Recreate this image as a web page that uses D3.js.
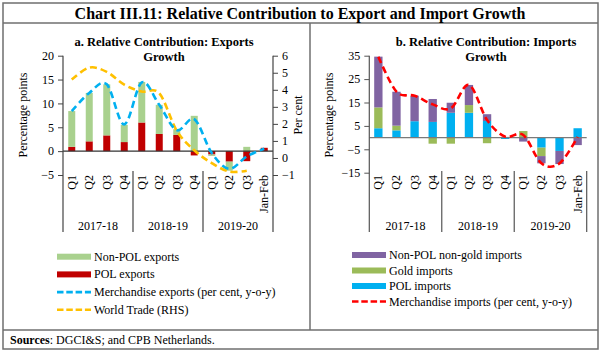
<!DOCTYPE html>
<html><head><meta charset="utf-8">
<script src="https://cdn.jsdelivr.net/npm/d3@7"></script>
<style>
html,body{margin:0;padding:0;background:#fff;}
text{font-family:"Liberation Serif","Times New Roman",serif;fill:#000;}
</style></head>
<body><svg id="c" width="603" height="355"></svg>
<script>
// ---------- data ----------
const categories = ["Q1","Q2","Q3","Q4","Q1","Q2","Q3","Q4","Q1","Q2","Q3","Jan-Feb"];
const years = ["2017-18","2018-19","2019-20"];
const polExports      = [0.9, 2.05, 3.3, 1.9, 6.0, 3.6, 3.4, -0.9, -0.7, -2.2, -2.1, 0.7];
const nonPolExports   = [7.5, 10.15, 10.7, 3.6, 8.5, 6.1, 1.2, 7.4, -0.3, -1.9, 0.9, 0];
const merchExports    = [8.4, 12.2, 14.0, 5.6, 14.4, 9.7, 4.4, 6.7, -0.4, -3.7, -1.1, 0.5];
const worldTrade      = [4.6, 5.3, 5.05, 4.3, 3.9, 3.8, 1.6, 0.45, -0.3, -0.8, -0.75, null];
const polImports      = [4.0, 3.1, 7.0, 6.7, 10.6, 10.6, 7.1, -0.6, 0, -4.3, -5.7, 4.0];
const goldImports     = [8.9, 2.0, 0, -2.6, -2.6, 3.3, -2.4, 0, 2.8, -3.6, 0, 0];
const nonPolNonGoldImports = [21.7, 14.5, 10.9, 9.8, 4.3, 8.6, 2.9, 0.3, -1.7, -3.1, -5.6, -3.2];
const merchImports    = [34.6, 19.6, 17.9, 14.2, 12.5, 22.5, 7.5, 0.4, 1.1, -11.0, -11.0, 0.3];
const ticksA = [-5, 0, 5, 10, 15, 20];
const ticksARight = [-1, 0, 1, 2, 3, 4, 5, 6];
const ticksB = [-15, -5, 5, 15, 25, 35];

const svg = d3.select("#c");
const idx = categories.map((d, i) => i);

// ---------- frame ----------
const frame = "#6f6f6f";
svg.append("rect").attr("x", 3).attr("y", 3).attr("width", 595).attr("height", 346)
  .attr("fill", "none").attr("stroke", frame).attr("stroke-width", 1.5);
svg.append("line").attr("x1", 3).attr("x2", 598).attr("y1", 23).attr("y2", 23).attr("stroke", frame).attr("stroke-width", 1.5);
svg.append("line").attr("x1", 3).attr("x2", 598).attr("y1", 330).attr("y2", 330).attr("stroke", frame).attr("stroke-width", 1.5);
svg.append("line").attr("x1", 310).attr("x2", 310).attr("y1", 23).attr("y2", 330).attr("stroke", frame).attr("stroke-width", 1.5);
svg.append("text").attr("x", 300).attr("y", 19).attr("text-anchor", "middle")
  .attr("font-size", "16px").attr("font-weight", "bold")
  .text("Chart III.11: Relative Contribution to Export and Import Growth");
const src = svg.append("text").attr("x", 10).attr("y", 343.5).attr("font-size", "12px");
src.append("tspan").attr("font-weight", "bold").text("Sources");
src.append("tspan").text(": DGCI&S; and CPB Netherlands.");

function drawPanel(o) {
  const g = svg.append("g");
  const x = d3.scaleBand().domain(idx).range([o.x0, o.x1]).paddingInner(o.pad).paddingOuter(o.pad / 2);
  const y = d3.scaleLinear().domain(o.yDomain).range([o.yBottom, o.yTop]);
  const cx = i => x(i) + x.bandwidth() / 2;

  // subtitle
  o.title.forEach((t, k) => g.append("text").attr("x", o.titleX).attr("y", 46 + k * 15)
    .attr("text-anchor", "middle").attr("font-size", "12.5px").attr("font-weight", "bold").text(t));

  // bars
  const rows = idx.map(i => { const r = {i}; o.series.forEach(s => r[s.key] = s.values[i]); return r; });
  const stack = d3.stack().keys(o.series.map(s => s.key)).offset(d3.stackOffsetDiverging)(rows);
  stack.forEach((layer, k) => {
    g.append("g").selectAll("rect").data(layer).join("rect")
      .attr("x", d => x(d.data.i)).attr("width", x.bandwidth())
      .attr("y", d => y(Math.max(d[0], d[1])))
      .attr("height", d => Math.abs(y(d[0]) - y(d[1])))
      .attr("fill", o.series[k].color);
  });

  // zero line
  g.append("line").attr("x1", o.x0).attr("x2", o.x1).attr("y1", y(0)).attr("y2", y(0))
    .attr("stroke", o.zeroColor).attr("stroke-width", 1.2);

  // left axis
  const ax = g.append("g").attr("transform", `translate(${o.x0},0)`)
    .call(d3.axisLeft(y).tickValues(o.ticks).tickFormat(d3.format("d")).tickSize(5).tickPadding(4));
  ax.select(".domain").remove();
  ax.selectAll("line").attr("stroke", o.axisColor);
  ax.selectAll("text").attr("font-size", "12px").attr("font-family", "Liberation Serif, serif");
  g.append("line").attr("x1", o.x0).attr("x2", o.x0).attr("y1", o.yTop).attr("y2", 232)
    .attr("stroke", o.axisColor).attr("stroke-width", 1.2);
  g.append("text").attr("transform", `translate(${o.yTitleX},115) rotate(-90)`)
    .attr("text-anchor", "middle").attr("font-size", "12px").text("Percentage points");

  // right axis
  let yR = null;
  if (o.rightDomain) {
    yR = d3.scaleLinear().domain(o.rightDomain).range([o.yBottom, o.yTop]);
    const ar = g.append("g").attr("transform", `translate(${o.x1},0)`)
      .call(d3.axisRight(yR).tickValues(ticksARight).tickFormat(d3.format("d")).tickSize(5).tickPadding(4));
    ar.select(".domain").remove();
    ar.selectAll("line").attr("stroke", o.axisColor);
    ar.selectAll("text").attr("font-size", "12px").attr("font-family", "Liberation Serif, serif");
    g.append("line").attr("x1", o.x1).attr("x2", o.x1).attr("y1", o.yTop).attr("y2", 232)
      .attr("stroke", o.axisColor).attr("stroke-width", 1.2);
    g.append("text").attr("transform", `translate(302,115) rotate(-90)`)
      .attr("text-anchor", "middle").attr("font-size", "12px").text("Per cent");
  } else {
    g.append("line").attr("x1", o.x1).attr("x2", o.x1).attr("y1", 171).attr("y2", 232)
      .attr("stroke", o.axisColor).attr("stroke-width", 1.2);
  }

  // category labels and group separators
  categories.forEach((c, i) => {
    g.append("text").attr("transform", `translate(${cx(i) + 4},175) rotate(-90)`)
      .attr("text-anchor", "end").attr("font-size", "12px").text(c);
  });
  const step = x.step();
  [4, 8].forEach(b => {
    const xs = o.x0 + b * step;
    g.append("line").attr("x1", xs).attr("x2", xs).attr("y1", 171).attr("y2", 232)
      .attr("stroke", o.axisColor).attr("stroke-width", 1.2);
  });
  years.forEach((yr, k) => {
    g.append("text").attr("x", o.x0 + (k * 4 + 2) * step).attr("y", 230)
      .attr("text-anchor", "middle").attr("font-size", "12px").text(yr);
  });

  // lines
  o.lines.forEach(l => {
    const sc = l.right ? yR : y;
    const line = d3.line().defined(d => d != null).x((d, i) => cx(i)).y(d => sc(d))
      .curve(d3.curveCatmullRom.alpha(0));
    g.append("path").datum(l.values).attr("d", line).attr("fill", "none")
      .attr("stroke", l.color).attr("stroke-width", 2.6).attr("stroke-dasharray", "7,4");
  });

  // legend
  o.legend.forEach((it, k) => {
    const ly = o.legY + k * o.legStep;
    if (it.type === "bar") {
      g.append("rect").attr("x", o.legX).attr("y", ly - 3).attr("width", 34).attr("height", 6).attr("fill", it.color);
    } else {
      g.append("line").attr("x1", o.legX).attr("x2", o.legX + 34).attr("y1", ly).attr("y2", ly)
        .attr("stroke", it.color).attr("stroke-width", 2.6).attr("stroke-dasharray", "6.5,2.8");
    }
    g.append("text").attr("x", o.legX + 37).attr("y", ly + 4).attr("font-size", "12px").text(it.label);
  });
}

drawPanel({
  x0: 63, x1: 273, yTop: 55.7, yBottom: 175, yDomain: [-5, 20], ticks: ticksA, pad: 0.6,
  rightDomain: [-1, 6], titleX: 164, title: ["a. Relative Contribution: Exports", "Growth"],
  zeroColor: "#333", axisColor: "#444", yTitleX: 27,
  series: [
    {key: "pol", values: polExports, color: "#c00000"},
    {key: "nonpol", values: nonPolExports, color: "#a9d18e"}
  ],
  lines: [
    {values: worldTrade, color: "#ffc000", right: true},
    {values: merchExports, color: "#00b0f0", right: false}
  ],
  legX: 57, legY: 256.7, legStep: 17.7,
  legend: [
    {type: "bar", color: "#a9d18e", label: "Non-POL exports"},
    {type: "bar", color: "#c00000", label: "POL exports"},
    {type: "line", color: "#00b0f0", label: "Merchandise exports  (per cent, y-o-y)"},
    {type: "line", color: "#ffc000", label: "World Trade (RHS)"}
  ]
});

drawPanel({
  x0: 369.3, x1: 586.7, yTop: 55.7, yBottom: 172.7, yDomain: [-15, 35], ticks: ticksB, pad: 0.54,
  rightDomain: null, titleX: 486, title: ["b. Relative Contribution: Imports", "Growth"],
  zeroColor: "#7a7a7a", axisColor: "#555", yTitleX: 333,
  series: [
    {key: "pol", values: polImports, color: "#00b0f0"},
    {key: "gold", values: goldImports, color: "#9bbb59"},
    {key: "other", values: nonPolNonGoldImports, color: "#8064a2"}
  ],
  lines: [
    {values: merchImports, color: "#ff0000", right: false}
  ],
  legX: 352, legY: 255, legStep: 15.5,
  legend: [
    {type: "bar", color: "#8064a2", label: "Non-POL non-gold imports"},
    {type: "bar", color: "#9bbb59", label: "Gold imports"},
    {type: "bar", color: "#00b0f0", label: "POL imports"},
    {type: "line", color: "#ff0000", label: "Merchandise imports (per cent, y-o-y)"}
  ]
});
</script></body></html>
